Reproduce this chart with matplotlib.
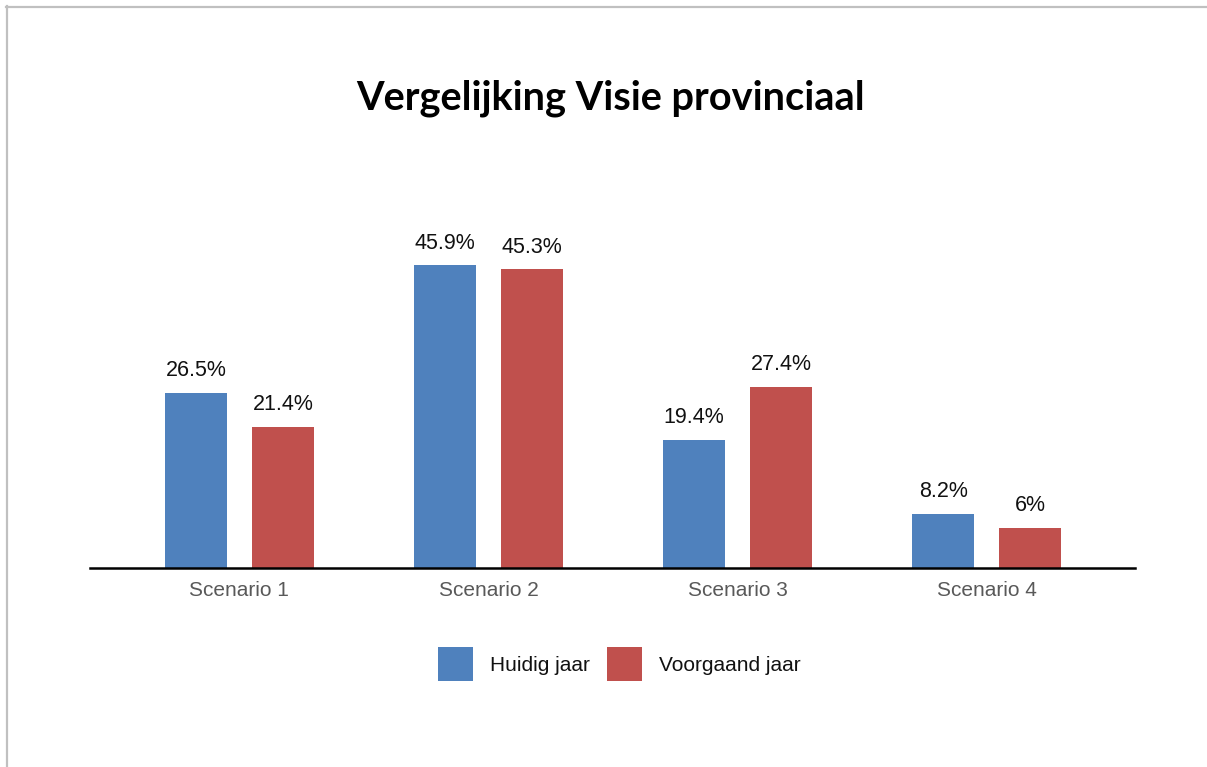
import matplotlib
matplotlib.use("Agg")
import matplotlib.pyplot as plt
from matplotlib.lines import Line2D
import numpy as np

categories = ["Scenario 1", "Scenario 2", "Scenario 3", "Scenario 4"]
huidig = [26.5, 45.9, 19.4, 8.2]
voorgaand = [21.4, 45.3, 27.4, 6.0]
labels_huidig = ["26.5%", "45.9%", "19.4%", "8.2%"]
labels_voorgaand = ["21.4%", "45.3%", "27.4%", "6%"]
series_names = ["Huidig jaar", "Voorgaand jaar"]
title = "Vergelijking Visie provinciaal"

plt.rcParams["font.family"] = ["Liberation Sans", "DejaVu Sans"]

W, H = 1207, 767
fig = plt.figure(figsize=(W / 100, H / 100), dpi=100)
fig.patch.set_facecolor("white")

def fx(px):
    return px / W

def fy(py):
    return 1 - py / H

ax_left, ax_right = 90, 1135
ax_top, ax_bottom = 200, 567.5
ax = fig.add_axes([fx(ax_left), fy(ax_bottom), fx(ax_right - ax_left), (ax_bottom - ax_top) / H])

x = np.arange(len(categories))
bw = 0.249
off = 0.349 / 2
blue = "#4F81BD"
red = "#C0504D"
b1 = ax.bar(x - off, huidig, bw, color=blue, label=series_names[0])
b2 = ax.bar(x + off, voorgaand, bw, color=red, label=series_names[1])

ax.set_xlim(-0.600, 3.596)
ax.set_ylim(0, (ax_bottom - ax_top) / 6.58)

for bars, labs in ((b1, labels_huidig), (b2, labels_voorgaand)):
    for rect, lab in zip(bars, labs):
        ax.annotate(lab, (rect.get_x() + rect.get_width() / 2, rect.get_height()),
                    xytext=(0, 8.5), textcoords="offset points", ha="center", va="bottom",
                    fontsize=15.5, family=["Liberation Sans", "DejaVu Sans"], color="#111111")

for s in ["top", "right", "left"]:
    ax.spines[s].set_visible(False)
ax.spines["bottom"].set_linewidth(1.8)
ax.spines["bottom"].set_color("black")
ax.set_yticks([])
ax.set_xticks(x)
ax.set_xticklabels(categories, fontsize=15, family=["Liberation Sans", "DejaVu Sans"], color="#595959")
ax.tick_params(axis="x", length=0, pad=10)

fig.text(fx(611), fy(98), title, ha="center", va="center", fontsize=28.6,
         fontweight="bold", family=["Lato", "DejaVu Sans"], color="black")

leg = fig.legend(handles=[b1, b2], labels=series_names, loc="center",
                 bbox_to_anchor=(fx(619), fy(664)), ncol=2, frameon=False,
                 prop={"family": ["Liberation Sans", "DejaVu Sans"], "size": 15},
                 handlelength=1.68, handleheight=2.1, handletextpad=0.82,
                 columnspacing=0.82)
for t in leg.get_texts():
    t.set_color("#111111")

border_c = "#c0c0c0"
fig.add_artist(Line2D([fx(6), 1], [fy(7), fy(7)], color=border_c, lw=1.6, transform=fig.transFigure))
fig.add_artist(Line2D([fx(7), fx(7)], [fy(6), 0], color=border_c, lw=1.6, transform=fig.transFigure))

fig.savefig("out.png", dpi=100, facecolor="white")
